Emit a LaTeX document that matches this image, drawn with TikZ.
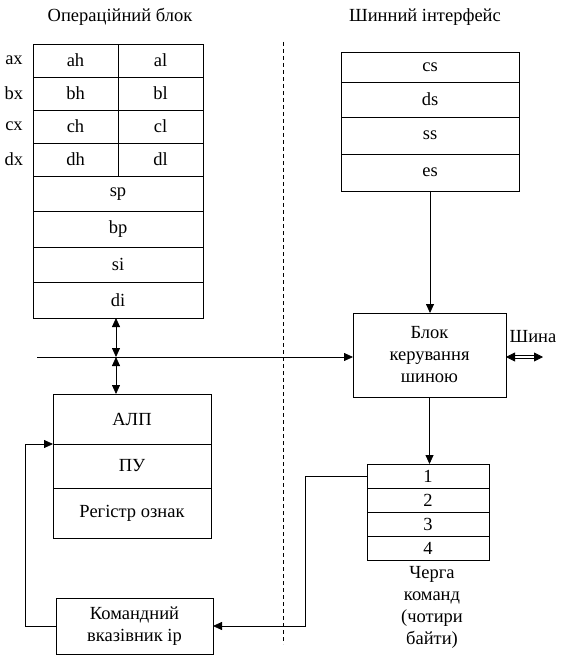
\documentclass[tikz,border=0pt]{standalone}
\usepackage{fontspec}
\setmainfont{Liberation Serif}
\usetikzlibrary{arrows.meta}
\begin{document}
\begin{tikzpicture}[x=1pt,y=-1pt,line width=0.8pt,
        font=\fontsize{18.5}{22}\selectfont,
        cell/.style={draw,inner sep=0pt,outer sep=0pt,align=center},
        arr/.style={-{Triangle[length=9pt,width=8pt]}},
        arrs/.style={{Triangle[length=9pt,width=8pt]}-{Triangle[length=9pt,width=8pt]}}]
        \useasboundingbox (0,0) rectangle (563,660);
        % operational block
        \begin{scope}
            \node (opb) at (120,17) {Операційний блок};
            \foreach \r/\y in {a/60.5,b/93.5,c/126.5,d/159.5}{
                \node (\r x) at (14,\y) {\r x};
                \node[cell,minimum width=85pt,minimum height=33pt] (\r h) at (75.5,\y) {\r h};
                \node[cell,minimum width=85pt,minimum height=33pt] (\r l) at (160.5,\y) {\r l};
            }
            \foreach \n/\y in {sp/193.75,bp/229.25,si/264.75,di/300.25}
                \node[cell,minimum width=170pt,minimum height=35.5pt] (\n) at (118,\y) {\n};
            \node[cell,minimum width=158pt,minimum height=50pt] (alu) at (132,419) {АЛП};
            \node[cell,minimum width=158pt,minimum height=44pt] (pu) at (132,466) {ПУ};
            \node[cell,minimum width=158pt,minimum height=50pt] (flags) at (132,513) {Регістр ознак};
            \node[cell,minimum width=157pt,minimum height=56pt] (ip) at (134.5,626) {Командний\\вказівник ip};
        \end{scope}
        % bus interface
        \begin{scope}
            \node (bif) at (425,17) {Шинний інтерфейс};
            \foreach \n/\y/\h in {cs/67/30,ds/99.5/35,ss/135.5/37,es/172.5/37}
                \node[cell,minimum width=178pt,minimum height=\h pt] (\n) at (430,\y) {\n};
            \node[cell,minimum width=153pt,minimum height=84pt] (bcu) at (429.5,355) {Блок\\керування\\шиною};
            \foreach \i/\y in {1/476,2/500,3/524,4/548}
                \node[cell,minimum width=122pt,minimum height=24pt] (q\i) at (428,\y) {\i};
            \node[align=center,anchor=north] (qcap) at (432,563) {Черга\\команд\\(чотири\\байти)};
            \node (shina) at (533,337) {Шина};
        \end{scope}
        \draw[dash pattern=on 4pt off 3pt] (283,42) -- (283,644);
        % connections
        \coordinate (busL) at (37,357);
        \coordinate (jn) at (116,357);
        \coordinate (bus) at (543,357);
        \coordinate (qturn) at (305,0);
        \coordinate (fb) at (25,444);
        \draw[arr] (es.south) -- (es.south |- bcu.north);
        \draw[arr] (busL) -- (busL -| bcu.west);
        \draw[arrs] (jn |- di.south) -- (jn);
        \draw[arrs] (jn) -- (jn |- alu.north);
        \draw[arr] (bcu.south) -- (bcu.south |- q1.north);
        \draw[double,double distance=2pt,{Triangle[length=9pt,width=9pt]}-{Triangle[length=9pt,width=9pt]}] (bcu.east |- busL) -- (bus);
        \draw[arr] (q1.west) -- (q1.west -| qturn) |- (ip.east);
        \draw[arr] (ip.west) -| (fb) -- (alu.south west);
    \end{tikzpicture}
\end{document}
